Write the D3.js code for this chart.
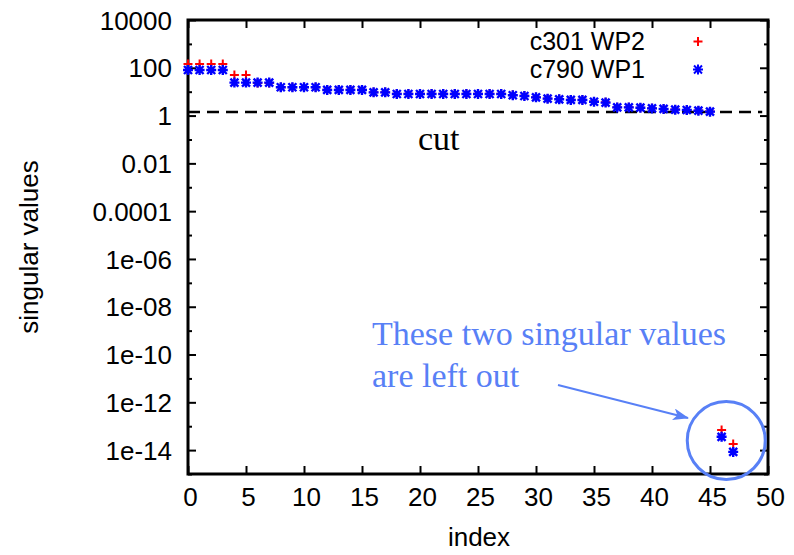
<!doctype html>
<html lang="en">
<head>
  <meta charset="utf-8">
  <title>singular values</title>
  <script src="https://d3js.org/d3.v7.min.js"></script>
  <style>
    body { margin: 0; background: #fff; }
    svg { display: block; }
    .tick-label { font: 26px "Liberation Sans", Arial, sans-serif; fill: #000; }
    .legend-label { font: 25px "Liberation Sans", Arial, sans-serif; fill: #000; }
    .ann { font-family: "Liberation Serif", "Times New Roman", serif; font-size: 34px; }
  </style>
</head>
<body>
<div id="chart"></div>
<script>
// data (index -> singular value)
const indexC301 = d3.range(0, 48);
const valuesC301 = [
  145, 145, 145, 145, 50, 50, 23, 23, 15.5, 15.5,
  15.5, 15.5, 12, 12, 12, 12, 9.5, 9.5, 8.1, 8.1,
  8.1, 8.1, 8.1, 8.1, 8.1, 8.1, 8.1, 8.1, 7.2, 6.7,
  5.9, 5.2, 4.9, 4.6, 4.6, 3.9, 3.6, 2.25, 2.25, 2.15,
  2.05, 1.9, 1.8, 1.72, 1.62, 1.48, 7.0e-14, 1.8e-14
];
const indexC790 = d3.range(0, 48);
const valuesC790 = [
  81, 81, 81, 81, 24, 24, 24, 24, 15.3, 15.3,
  15.3, 15.3, 11.8, 11.8, 11.8, 11.8, 9.4, 9.4, 8.0, 8.0,
  8.0, 8.0, 8.0, 8.0, 8.0, 8.0, 8.0, 8.0, 7.1, 6.6,
  5.8, 5.1, 4.8, 4.5, 4.5, 3.8, 3.5, 2.2, 2.2, 2.14,
  2.0, 1.89, 1.77, 1.71, 1.6, 1.46, 3.6e-14, 8.4e-15
];
const seriesNames = ['c301 WP2', 'c790 WP1'];
const cutValue = 1.4;

const xTicks = d3.range(0, 51, 5);
const yMajorTicks = [1e4, 1e2, 1, 1e-2, 1e-4, 1e-6, 1e-8, 1e-10, 1e-12, 1e-14];
const yMajorLabels = ['10000', '100', '1', '0.01', '0.0001', '1e-06', '1e-08', '1e-10', '1e-12', '1e-14'];
const yMinorTicks = [1e3, 1e1, 1e-1, 1e-3, 1e-5, 1e-7, 1e-9, 1e-11, 1e-13, 1e-15];

const width = 794, height = 555;
const plotLeft = 188, plotRight = 768, plotTop = 20, plotBottom = 474;

const svg = d3.select('#chart').append('svg')
  .attr('width', width)
  .attr('height', height);

const x = d3.scaleLinear().domain([0, 50]).range([plotLeft, plotRight]);
const y = d3.scaleLog().domain([1e-15, 1e4]).range([plotBottom, plotTop]);

// ticks point inward, mirrored on all four sides
function tickAxis(axis, g) {
  g.call(axis);
  g.select('.domain').remove();
  g.selectAll('.tick line').attr('stroke', '#000').attr('stroke-width', 2);
}

const xLabels = svg.append('g').attr('transform', `translate(0,${plotBottom})`);
tickAxis(d3.axisBottom(x).tickValues(xTicks).tickSize(-8), xLabels);
xLabels.selectAll('.tick text').attr('class', 'tick-label')
  .attr('dy', null).attr('y', 32).attr('x', 2);

const xTop = svg.append('g').attr('transform', `translate(0,${plotTop})`);
tickAxis(d3.axisTop(x).tickValues(xTicks).tickSize(-8).tickFormat(''), xTop);

const yLeft = svg.append('g').attr('transform', `translate(${plotLeft},0)`);
tickAxis(d3.axisLeft(y).tickValues(yMajorTicks).tickSize(-8)
  .tickFormat((d, i) => yMajorLabels[i]), yLeft);
yLeft.selectAll('.tick text').attr('class', 'tick-label')
  .attr('x', -16).attr('dy', '0.35em').attr('text-anchor', 'end');

const yLeftMinor = svg.append('g').attr('transform', `translate(${plotLeft},0)`);
tickAxis(d3.axisLeft(y).tickValues(yMinorTicks).tickSize(-4).tickFormat(''), yLeftMinor);

const yRight = svg.append('g').attr('transform', `translate(${plotRight},0)`);
tickAxis(d3.axisRight(y).tickValues(yMajorTicks).tickSize(-8).tickFormat(''), yRight);
const yRightMinor = svg.append('g').attr('transform', `translate(${plotRight},0)`);
tickAxis(d3.axisRight(y).tickValues(yMinorTicks).tickSize(-4).tickFormat(''), yRightMinor);

// border
svg.append('rect')
  .attr('x', plotLeft).attr('y', plotTop)
  .attr('width', plotRight - plotLeft).attr('height', plotBottom - plotTop)
  .attr('fill', 'none').attr('stroke', '#000').attr('stroke-width', 3);

// axis titles
svg.append('text').attr('class', 'tick-label')
  .attr('x', 479).attr('y', 546)
  .attr('text-anchor', 'middle').text('index');
svg.append('text').attr('class', 'tick-label')
  .attr('transform', `translate(38,${(plotTop + plotBottom) / 2}) rotate(-90)`)
  .attr('text-anchor', 'middle').text('singular values');

// cut line
svg.append('line')
  .attr('x1', x(0)).attr('x2', x(49.5))
  .attr('y1', y(cutValue)).attr('y2', y(cutValue))
  .attr('stroke', '#000').attr('stroke-width', 2.5)
  .attr('stroke-dasharray', '12,7');
svg.append('text').attr('class', 'ann')
  .attr('x', 418).attr('y', 150).attr('fill', '#000').text('cut');

// point markers
const plusPath = 'M-4.5,0H4.5M0,-4.5V4.5';
const starPath = 'M-5,0H5M0,-5V5M-4,-4L4,4M-4,4L4,-4';

svg.append('g').selectAll('path')
  .data(indexC301.map((d, i) => [d, valuesC301[i]]))
  .join('path')
  .attr('transform', d => `translate(${x(d[0])},${y(d[1])})`)
  .attr('d', plusPath)
  .attr('stroke', '#ff0000').attr('stroke-width', 2).attr('fill', 'none');

svg.append('g').selectAll('path')
  .data(indexC790.map((d, i) => [d, valuesC790[i]]))
  .join('path')
  .attr('transform', d => `translate(${x(d[0])},${y(d[1])})`)
  .attr('d', starPath)
  .attr('stroke', '#0000ff').attr('stroke-width', 2.4).attr('fill', 'none');

// legend
const legend = svg.append('g');
seriesNames.forEach((name, i) => {
  const ly = 41.5 + i * 28;
  legend.append('text').attr('class', 'legend-label')
    .attr('x', 645).attr('y', ly).attr('dy', '0.35em')
    .attr('text-anchor', 'end').text(name);
  legend.append('path')
    .attr('transform', `translate(698,${ly})`)
    .attr('d', i === 0 ? plusPath : starPath)
    .attr('stroke', i === 0 ? '#ff0000' : '#0000ff')
    .attr('stroke-width', 2).attr('fill', 'none');
});

// annotation
const annColor = '#5880f6';
svg.append('text').attr('class', 'ann').attr('fill', annColor)
  .attr('x', 372).attr('y', 345).text('These two singular values');
svg.append('text').attr('class', 'ann').attr('fill', annColor)
  .attr('x', 372).attr('y', 387).text('are left out');

svg.append('circle')
  .attr('cx', x(46.4)).attr('cy', y(2.5e-14)).attr('r', 39)
  .attr('fill', 'none').attr('stroke', annColor).attr('stroke-width', 3);

svg.append('defs').append('marker')
  .attr('id', 'arrow').attr('viewBox', '0 0 16 12')
  .attr('refX', 15).attr('refY', 6)
  .attr('markerWidth', 16).attr('markerHeight', 12)
  .attr('markerUnits', 'userSpaceOnUse')
  .attr('orient', 'auto')
  .append('path').attr('d', 'M0,0L16,6L0,12L4,6Z').attr('fill', annColor);

svg.append('line')
  .attr('x1', 558).attr('y1', 385).attr('x2', 688).attr('y2', 418)
  .attr('stroke', annColor).attr('stroke-width', 2)
  .attr('marker-end', 'url(#arrow)');
</script>
</body>
</html>
